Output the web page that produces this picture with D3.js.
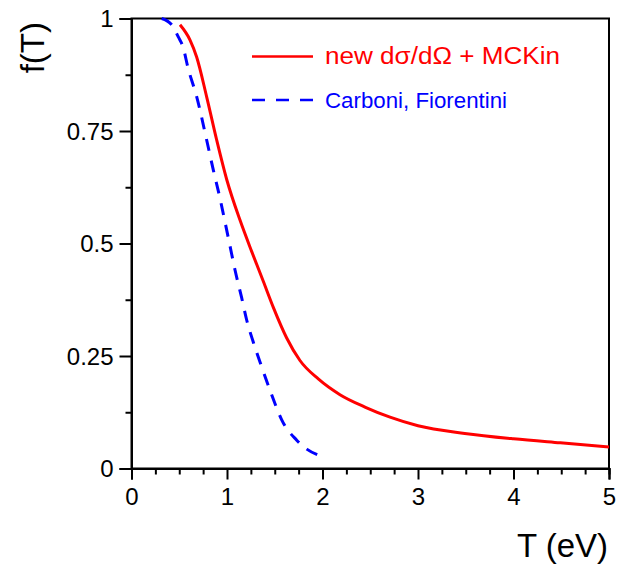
<!DOCTYPE html>
<html><head><meta charset="utf-8">
<script src="https://cdn.jsdelivr.net/npm/d3@7"></script>
<style>body{margin:0;background:#fff;} svg{display:block;font-family:"Liberation Sans",Arial,sans-serif;}</style>
</head><body>
<script>
// Data
const redT = [0.508,0.613,0.683,0.787,0.892,1.0,1.136,1.259,1.380,1.485,1.625,1.764,1.956,2.183,2.45,2.707,3.0,3.49,4.0,4.49,5.0];
const redF = [0.986,0.952,0.914,0.826,0.730,0.640,0.552,0.482,0.416,0.358,0.290,0.240,0.199,0.164,0.136,0.114,0.095,0.078,0.066,0.057,0.048];
const blueT = [0.316,0.421,0.490,0.539,0.592,0.683,0.787,0.857,0.927,0.979,1.031,1.084,1.154,1.206,1.275,1.363,1.450,1.510,1.573,1.730,1.835,1.953];
const blueF = [1.0,0.986,0.959,0.937,0.890,0.826,0.730,0.663,0.600,0.548,0.495,0.441,0.379,0.330,0.281,0.226,0.174,0.140,0.108,0.063,0.043,0.030];
const xTicks = [0,1,2,3,4,5];
const yTicks = [0,0.25,0.5,0.75,1];
const yTickLabels = ["0","0.25","0.5","0.75","1"];
const legendLabels = ["new d\u03C3/d\u03A9 + MCKin","Carboni, Fiorentini"];

const W=627,H=565;
const L=131.5,R=609,T=18.5,B=468.5;
const svg=d3.select("body").append("svg").attr("width",W).attr("height",H);
const x=d3.scaleLinear().domain([0,5]).range([L,R]);
const y=d3.scaleLinear().domain([0,1]).range([B,T]);

// frame
svg.append("rect").attr("x",L).attr("y",T).attr("width",R-L).attr("height",B-T)
  .attr("fill","none").attr("stroke","#000").attr("stroke-width",2);

// y axis
const yAx=svg.append("g").attr("transform",`translate(${L},0)`)
  .call(d3.axisLeft(y).tickValues(yTicks).tickFormat((d,i)=>yTickLabels[i]).tickSize(12).tickPadding(6));
svg.append("g").attr("transform",`translate(${L},0)`)
  .call(d3.axisLeft(y).tickValues([0.125,0.375,0.625,0.875]).tickFormat("").tickSize(6));
// x axis
const xAx=svg.append("g").attr("transform",`translate(0,${B})`)
  .call(d3.axisBottom(x).tickValues(xTicks).tickFormat(d3.format("d")).tickSize(11).tickPadding(8));
svg.append("g").attr("transform",`translate(0,${B})`)
  .call(d3.axisBottom(x).tickValues(d3.range(0,21).map(i=>i*0.25).filter(v=>v%1!==0)).tickFormat("").tickSize(6));
svg.selectAll(".domain").attr("stroke","#000").attr("stroke-width",2);
svg.selectAll(".tick line").attr("stroke","#000").attr("stroke-width",2);
svg.selectAll(".tick text").attr("font-size",24).attr("fill","#000").attr("font-family","Liberation Sans, Arial, sans-serif");
yAx.selectAll(".tick text").attr("dy","0.35em");

// titles
svg.append("text").attr("x",608).attr("y",557).attr("text-anchor","end")
  .attr("font-size",33).text("T (eV)");
svg.append("text").attr("transform","translate(44,22) rotate(-90)").attr("text-anchor","end")
  .attr("font-size",33).text("f(T)");

const line=d3.line().x(d=>x(d[0])).y(d=>y(d[1])).curve(d3.curveMonotoneX);
svg.append("path").datum(redT.map((t,i)=>[t,redF[i]])).attr("d",line)
  .attr("fill","none").attr("stroke","#ff0000").attr("stroke-width",3);
svg.append("path").datum(blueT.map((t,i)=>[t,blueF[i]])).attr("d",line)
  .attr("fill","none").attr("stroke","#0000ff").attr("stroke-width",3).attr("stroke-dasharray","12,10");

// legend
svg.append("line").attr("x1",252).attr("x2",313).attr("y1",56.5).attr("y2",56.5)
  .attr("stroke","#ff0000").attr("stroke-width",2.5);
svg.append("text").attr("x",325).attr("y",64.3).attr("font-size",23).attr("fill","#ff0000")
  .attr("textLength",235).attr("lengthAdjust","spacingAndGlyphs").text(legendLabels[0]);
svg.append("line").attr("x1",252).attr("x2",313).attr("y1",100).attr("y2",100)
  .attr("stroke","#0000ff").attr("stroke-width",2.5).attr("stroke-dasharray","13,11");
svg.append("text").attr("x",325).attr("y",108.3).attr("font-size",21.5).attr("fill","#0000ff")
  .attr("textLength",182).attr("lengthAdjust","spacingAndGlyphs").text(legendLabels[1]);
</script>
</body></html>
